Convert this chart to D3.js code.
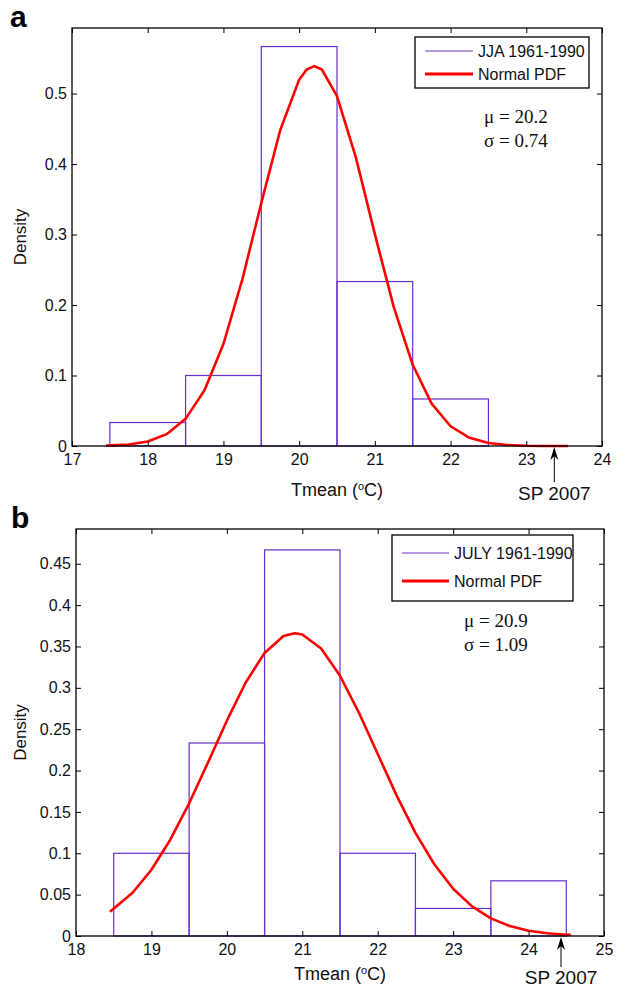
<!DOCTYPE html>
<html>
<head>
<meta charset="utf-8">
<script src="https://cdn.jsdelivr.net/npm/d3@7"></script>
<style>
  body { margin: 0; background: #fff; }
  svg { display: block; }
  text { font-family: "Liberation Sans", Arial, sans-serif; fill: #111; }
  .serif { font-family: "Liberation Serif", "Times New Roman", serif; }
</style>
</head>
<body>
<svg id="svg" width="617" height="987"></svg>
<script>
// Panel a : JJA 1961-1990
var binEdgesA = [17.5, 18.5, 19.5, 20.5, 21.5, 22.5, 23.5];
var densityA = [0.0333, 0.1, 0.5667, 0.2333, 0.0667, 0];
var pdfXA = [17.45, 17.75, 18, 18.25, 18.5, 18.75, 19, 19.25, 19.5, 19.75, 20, 20.1, 20.2, 20.3, 20.5, 20.75, 21, 21.25, 21.5, 21.75, 22, 22.25, 22.5, 22.75, 23, 23.25, 23.55];
var pdfYA = [0.0005, 0.0022, 0.0065, 0.0168, 0.0385, 0.0791, 0.1447, 0.2364, 0.3446, 0.448, 0.5197, 0.5341, 0.539, 0.5341, 0.4965, 0.409, 0.3005, 0.197, 0.1152, 0.0601, 0.028, 0.0116, 0.0043, 0.0014, 0.0004, 0.0001, 0];
var xTicksA = [17, 18, 19, 20, 21, 22, 23, 24];
var yTicksA = [0, 0.1, 0.2, 0.3, 0.4, 0.5];

// Panel b : JULY 1961-1990
var binEdgesB = [18.5, 19.5, 20.5, 21.5, 22.5, 23.5, 24.5];
var densityB = [0.1, 0.2333, 0.4667, 0.1, 0.0333, 0.0667];
var pdfXB = [18.45, 18.75, 19, 19.25, 19.5, 19.75, 20, 20.25, 20.5, 20.75, 20.9, 21, 21.25, 21.5, 21.75, 22, 22.25, 22.5, 22.75, 23, 23.25, 23.5, 23.75, 24, 24.25, 24.5, 24.56];
var pdfYB = [0.0292, 0.0523, 0.0801, 0.1164, 0.1604, 0.2098, 0.2603, 0.3064, 0.3422, 0.3626, 0.366, 0.3645, 0.3476, 0.3146, 0.2701, 0.22, 0.17, 0.1246, 0.0867, 0.0572, 0.0358, 0.0213, 0.012, 0.0064, 0.0033, 0.0016, 0.0014];
var xTicksB = [18, 19, 20, 21, 22, 23, 24, 25];
var yTicksB = [0, 0.05, 0.1, 0.15, 0.2, 0.25, 0.3, 0.35, 0.4, 0.45];

var PURPLE = "#6630c8",
	RED = "#ff0000";

var svg = d3.select('#svg');

function drawPanel(p){
	var x = d3.scaleLinear().domain(p.xDomain).range([p.left, p.right]),
		y = d3.scaleLinear().domain([0, p.yMax]).range([p.bottom, p.top]),
		g = svg.append('g');

	// histogram bars
	var bins = p.density.map(function(d, i){
		return { x0: p.edges[i], x1: p.edges[i + 1], v: d };
	});
	g.selectAll('rect.bar')
		.data(bins)
		.enter()
		.append('rect')
		.attr('class', 'bar')
		.attr('x', function(d){ return x(d.x0); })
		.attr('y', function(d){ return y(d.v); })
		.attr('width', function(d){ return x(d.x1) - x(d.x0); })
		.attr('height', function(d){ return y(0) - y(d.v); })
		.style('fill', 'none')
		.style('stroke', PURPLE)
		.style('stroke-width', 1.2);

	// normal pdf
	var line = d3.line()
		.x(function(d){ return x(d[0]); })
		.y(function(d){ return y(d[1]); });
	g.append('path')
		.datum(d3.zip(p.pdfX, p.pdfY))
		.attr('d', line)
		.style('fill', 'none')
		.style('stroke', RED)
		.style('stroke-width', 2.6)
		.style('stroke-linejoin', 'round');

	// axes, ticks pointing inward
	var fmt = function(d){ return d === 0 ? '0' : String(d); };
	var axB = g.append('g')
		.attr('transform', 'translate(0,' + p.bottom + ')')
		.call(d3.axisBottom(x).tickValues(p.xTicks).tickSizeInner(-5).tickSizeOuter(0).tickPadding(8).tickFormat(fmt));
	var axT = g.append('g')
		.attr('transform', 'translate(0,' + p.top + ')')
		.call(d3.axisTop(x).tickValues(p.xTicks).tickSizeInner(-5).tickSizeOuter(0).tickFormat(''));
	var axL = g.append('g')
		.attr('transform', 'translate(' + p.left + ',0)')
		.call(d3.axisLeft(y).tickValues(p.yTicks).tickSizeInner(-5).tickSizeOuter(0).tickPadding(5).tickFormat(fmt));
	var axR = g.append('g')
		.attr('transform', 'translate(' + p.right + ',0)')
		.call(d3.axisRight(y).tickValues(p.yTicks).tickSizeInner(-5).tickSizeOuter(0).tickFormat(''));

	[axB, axT, axL, axR].forEach(function(a){
		a.select('.domain').remove();
		a.selectAll('line').style('stroke', '#000');
		a.selectAll('text').style('font-size', '16px').style('font-family', '"Liberation Sans", Arial, sans-serif').style('fill', '#111');
	});

	g.append('rect')
		.attr('x', p.left)
		.attr('y', p.top)
		.attr('width', p.right - p.left)
		.attr('height', p.bottom - p.top)
		.style('fill', 'none')
		.style('stroke', '#000')
		.style('stroke-width', 1.3);

	// axis labels
	var xl = g.append('text')
		.attr('x', (p.left + p.right) / 2)
		.attr('y', p.bottom + p.xLabelDy)
		.attr('text-anchor', 'middle')
		.style('font-size', '18px');
	xl.append('tspan').text('Tmean (');
	xl.append('tspan').attr('dy', -6).style('font-size', '11px').text('o');
	xl.append('tspan').attr('dy', 6).text('C)');

	g.append('text')
		.attr('transform', 'translate(26,' + ((p.top + p.bottom) / 2) + ') rotate(-90)')
		.attr('text-anchor', 'middle')
		.style('font-size', '17px')
		.text('Density');

	// panel letter
	g.append('text')
		.attr('x', p.letterX)
		.attr('y', p.letterY)
		.style('font-size', '30px')
		.style('font-weight', 'bold')
		.style('fill', '#000')
		.text(p.letter);

	// legend
	var lg = g.append('g');
	lg.append('rect')
		.attr('x', p.legend.x)
		.attr('y', p.legend.y)
		.attr('width', p.legend.w)
		.attr('height', p.legend.h)
		.style('fill', '#fff')
		.style('stroke', '#000')
		.style('stroke-width', 1.3);
	var items = [
		{ label: p.seriesName, color: PURPLE, width: 1.2 },
		{ label: 'Normal PDF', color: RED, width: 3 }
	];
	items.forEach(function(it, i){
		var ly = p.legend.rowY[i];
		lg.append('line')
			.attr('x1', p.legend.x + 10)
			.attr('x2', p.legend.x + 10 + p.legend.lineLen)
			.attr('y1', ly)
			.attr('y2', ly)
			.style('stroke', it.color)
			.style('stroke-width', it.width);
		lg.append('text')
			.attr('x', p.legend.x + 15 + p.legend.lineLen)
			.attr('y', ly + 6)
			.style('font-size', '16px')
			.text(it.label);
	});

	// stats
	var st = g.append('text')
		.attr('class', 'serif')
		.attr('x', p.stats.x)
		.attr('y', p.stats.y)
		.style('font-size', '19px');
	st.append('tspan').attr('x', p.stats.x).text('\u03bc = ' + p.mu);
	st.append('tspan').attr('x', p.stats.x).attr('dy', 24).text('\u03c3 = ' + p.sigma);

	// SP 2007 arrow
	var ax = x(p.sp);
	g.append('line')
		.attr('x1', ax).attr('x2', ax)
		.attr('y1', p.bottom + 3).attr('y2', p.bottom + p.arrowLen)
		.style('stroke', '#000')
		.style('stroke-width', 1);
	g.append('path')
		.attr('d', 'M' + ax + ',' + (p.bottom + 1) + ' L' + (ax - 4) + ',' + (p.bottom + 14) + ' L' + ax + ',' + (p.bottom + 10) + ' L' + (ax + 4) + ',' + (p.bottom + 14) + ' Z')
		.style('fill', '#000');
	g.append('text')
		.attr('x', ax)
		.attr('y', p.bottom + p.spLabelDy)
		.attr('text-anchor', 'middle')
		.style('font-size', '19px')
		.text('SP 2007');
}

drawPanel({
	letter: 'a', letterX: 10, letterY: 27,
	left: 72, right: 602, top: 28, bottom: 446,
	xDomain: [17, 24], yMax: 0.593,
	edges: binEdgesA, density: densityA, pdfX: pdfXA, pdfY: pdfYA,
	xTicks: xTicksA, yTicks: yTicksA,
	seriesName: 'JJA 1961-1990', mu: '20.2', sigma: '0.74', sp: 23.37,
	xLabelDy: 50, arrowLen: 36, spLabelDy: 54,
	legend: { x: 415, y: 37, w: 174, h: 51, rowY: [51, 74], lineLen: 48 },
	stats: { x: 484, y: 123 }
});

drawPanel({
	letter: 'b', letterX: 11, letterY: 528,
	left: 76, right: 604, top: 529, bottom: 936,
	xDomain: [18, 25], yMax: 0.492,
	edges: binEdgesB, density: densityB, pdfX: pdfXB, pdfY: pdfYB,
	xTicks: xTicksB, yTicks: yTicksB,
	seriesName: 'JULY 1961-1990', mu: '20.9', sigma: '1.09', sp: 24.43,
	xLabelDy: 44, arrowLen: 31, spLabelDy: 48,
	legend: { x: 392, y: 535, w: 181, h: 66, rowY: [553, 581], lineLen: 47 },
	stats: { x: 464, y: 627 }
});
</script>
</body>
</html>
